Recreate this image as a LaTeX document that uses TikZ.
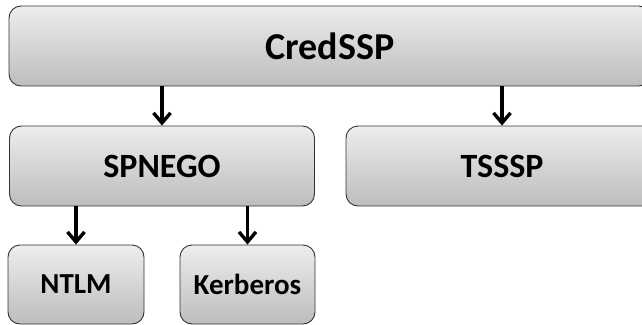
\documentclass[tikz,border=0pt]{standalone}
\usepackage{fontspec}
\setmainfont{Carlito}
\usetikzlibrary{arrows.meta}
\tikzset{
  layer/.style = {shape=rectangle, rounded corners=12pt,
                  draw=black!80, line width=0.9pt, align=center,
                  inner sep=0pt, font=\bfseries,
                  top color=black!7, bottom color=black!26},
  toplayer/.style = {layer, font=\bfseries\fontsize{38}{40}\selectfont},
  midlayer/.style = {layer, font=\bfseries\fontsize{34}{36}\selectfont},
  leaflayer/.style = {layer, font=\bfseries\fontsize{29}{31}\selectfont},
  uses/.style = {draw, line width=3.4pt, -{Straight Barb[length=10pt,width=17pt]}}
}
\begin{document}
\begin{tikzpicture}
  [
  x = 1pt, y = -1pt
  ]
  \useasboundingbox (0,0) rectangle (642,324);

  \node[toplayer, minimum width=642pt, minimum height=80pt] (cred) at (330,46) {CredSSP};

  \node[midlayer, minimum width=305pt, minimum height=80pt] (spnego) at (162,166) {SPNEGO};
  \node[midlayer, minimum width=312pt, minimum height=80pt] (tsssp) at (502,166) {TSSSP};

  \node[leaflayer, minimum width=136pt, minimum height=79pt] (ntlm) at (76,284.5) {NTLM};
  \node[leaflayer, minimum width=135pt, minimum height=79pt] (kerb) at (247.5,284.5) {Kerberos};

  % arrows
  \draw[uses] (cred.south -| spnego.north) -- (spnego.north);
  \draw[uses] (cred.south -| tsssp.north) -- (tsssp.north);
  \draw[uses] (spnego.south -| ntlm.north) -- (ntlm.north);
  \draw[uses] (spnego.south -| kerb.north) -- (kerb.north);
\end{tikzpicture}
\end{document}
